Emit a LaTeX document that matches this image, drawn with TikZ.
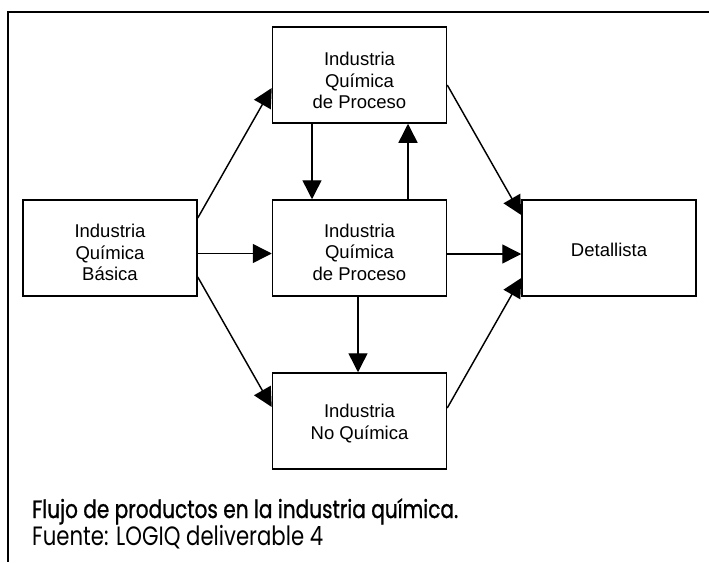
\documentclass[tikz,border=0pt]{standalone}
\usepackage{graphicx}
\usepackage{fontspec}
\setmainfont{Liberation Sans}
\newfontfamily\capfont{Poppins}[FakeStretch=0.8,FakeBold=1.0]
\newfontfamily\srcfont{Poppins}[FakeStretch=0.8]
\usetikzlibrary{arrows.meta}
\begin{document}
\begin{tikzpicture}[x=1pt,y=-1pt,
  box/.style={draw,line width=1.5pt,minimum width=174pt,minimum height=96pt,inner sep=0pt},
  lbl/.style={align=center,font=\fontsize{18.5}{21.5}\selectfont,inner sep=0pt},
  conn/.style={line width=1.45pt,-{Triangle[length=19pt,width=19pt]}},
  frame/.style={line width=2pt}
]
\useasboundingbox (0,0) rectangle (709,562);
\draw[frame] (709,12.3) -- (8.3,12.3) -- (8.3,562);

\node[box] (L) at (110,248) {};
\node[box] (T) at (359.5,75) {};
\node[box] (M) at (359.5,248) {};
\node[box] (B) at (359.5,421) {};
\node[box] (D) at (609,248) {};

\node[lbl] (Lt) at (110,252.6) {Industria\\Química\\Básica};
\node[lbl] (Tt) at (359.5,80.6) {Industria\\Química\\de Proceso};
\node[lbl] (Mt) at (359.5,252.3) {Industria\\Química\\de Proceso};
\node[lbl] (Bt) at (359.5,423.5) {Industria\\No Química};
\node[lbl] (Dt) at (609,250) {Detallista};

\draw[conn] ([yshift=30pt]L.east) -- ([yshift=-13pt]T.west);
\draw[conn] ([yshift=-5.5pt]L.east) -- ([yshift=-5.5pt]M.west);
\draw[conn] ([yshift=-29pt]L.east) -- ([yshift=14pt]B.west);
\draw[conn] ([xshift=-47.5pt]T.south) -- ([xshift=-47.5pt]M.north);
\draw[conn] ([xshift=48.5pt]M.north) -- ([xshift=48.5pt]T.south);
\draw[conn] ([xshift=-1.5pt]M.south) -- ([xshift=-1.5pt]B.north);
\draw[conn] ([yshift=-10pt]T.east) -- ([yshift=33pt]D.west);
\draw[conn] ([yshift=-6pt]M.east) -- ([yshift=-6pt]D.west);
\draw[conn] ([yshift=13pt]B.east) -- ([yshift=-30pt]D.west);

\node[anchor=base west,inner sep=0pt] (cap) at (32,518) {\resizebox{426pt}{!}{\capfont Flujo de productos en la industria química.}};
\node[anchor=base west,inner sep=0pt] (src) at (32,545) {\resizebox{291pt}{!}{\srcfont Fuente: LOGIQ deliverable 4}};
\end{tikzpicture}
\end{document}
